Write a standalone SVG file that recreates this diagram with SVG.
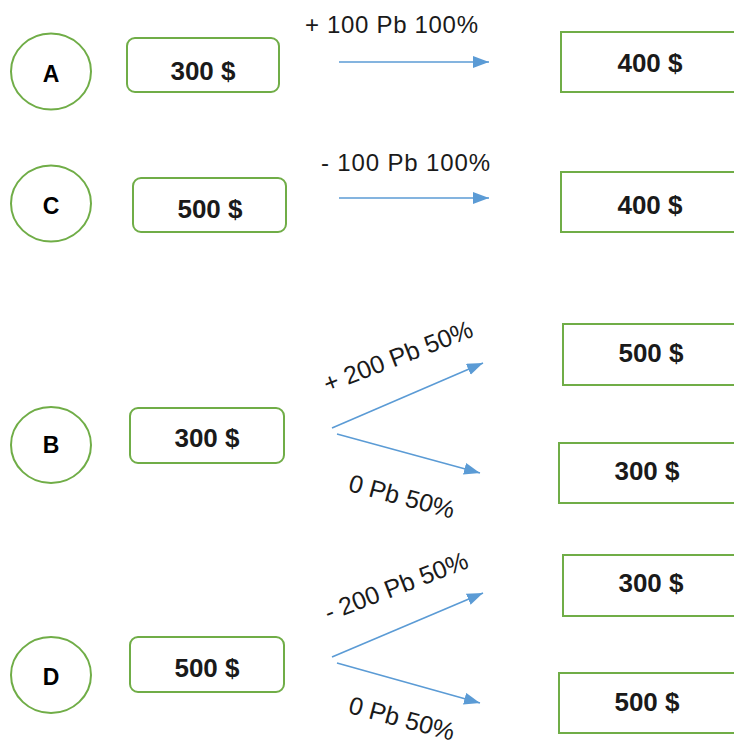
<svg xmlns="http://www.w3.org/2000/svg" width="734" height="747" viewBox="0 0 734 747">
<defs>
<style>
.c{fill:#fff;stroke:#70AD47;stroke-width:2}
.b{fill:#fff;stroke:#70AD47;stroke-width:2}
.lt{font-family:"Liberation Sans",Arial,sans-serif;font-weight:bold;font-size:23px;fill:#000;text-anchor:middle}
.vt{font-family:"Liberation Sans",Arial,sans-serif;font-weight:bold;font-size:26px;fill:#1a1a1a;text-anchor:middle}
.lb{font-family:"Liberation Sans",Arial,sans-serif;font-size:24px;fill:#1a1a1a}
.rl{font-size:25px;text-anchor:middle}
.ar{stroke:#5B9BD5;stroke-width:1.6;fill:none;marker-end:url(#ah)}
</style>
<marker id="ah" markerUnits="userSpaceOnUse" markerWidth="18" markerHeight="14" refX="16" refY="6" orient="auto">
<path d="M0,0 L16,6 L0,12 z" fill="#5B9BD5"/>
</marker>
</defs>
<rect width="734" height="747" fill="#fff"/>

<g id="circleA"><ellipse class="c" cx="51" cy="71.5" rx="40" ry="38"/><text class="lt" x="51" y="82">A</text></g>
<g id="circleC"><ellipse class="c" cx="51" cy="203.5" rx="40" ry="38"/><text class="lt" x="51" y="214">C</text></g>
<g id="circleB"><ellipse class="c" cx="51" cy="445" rx="40" ry="38"/><text class="lt" x="51" y="453">B</text></g>
<g id="circleD"><ellipse class="c" cx="51" cy="675" rx="40" ry="38"/><text class="lt" x="51" y="685">D</text></g>

<g id="startA"><rect class="b" x="127" y="38" width="152" height="54" rx="8"/><text class="vt" x="203" y="80">300 $</text></g>
<g id="startC"><rect class="b" x="133" y="178" width="153" height="54" rx="8"/><text class="vt" x="210" y="218">500 $</text></g>
<g id="startB"><rect class="b" x="130" y="408" width="154" height="55" rx="8"/><text class="vt" x="207" y="447">300 $</text></g>
<g id="startD"><rect class="b" x="130" y="637" width="154" height="55" rx="8"/><text class="vt" x="207" y="677">500 $</text></g>

<g id="endA"><rect class="b" x="561" y="32" width="200" height="60"/><text class="vt" x="650" y="72">400 $</text></g>
<g id="endC"><rect class="b" x="561" y="172" width="200" height="60"/><text class="vt" x="650" y="214">400 $</text></g>
<g id="endB1"><rect class="b" x="563" y="324" width="200" height="61"/><text class="vt" x="651" y="362">500 $</text></g>
<g id="endB2"><rect class="b" x="559" y="443" width="200" height="60"/><text class="vt" x="647" y="480">300 $</text></g>
<g id="endD1"><rect class="b" x="563" y="555" width="200" height="61"/><text class="vt" x="651" y="592">300 $</text></g>
<g id="endD2"><rect class="b" x="559" y="673" width="200" height="60"/><text class="vt" x="647" y="711">500 $</text></g>

<g id="connectors">
<line class="ar" x1="339" y1="62" x2="489" y2="62"/>
<line class="ar" x1="339" y1="198" x2="489" y2="198"/>
<line class="ar" x1="332" y1="428" x2="483" y2="363"/>
<line class="ar" x1="337" y1="434" x2="480" y2="473"/>
<line class="ar" x1="332" y1="657" x2="483" y2="593"/>
<line class="ar" x1="337" y1="663" x2="480" y2="703"/>
<text class="lb" x="305" y="33" textLength="173">+ 100 Pb 100%</text>
<text class="lb" x="321" y="171" textLength="169">- 100 Pb 100%</text>
<text class="lb rl" transform="translate(398,356) rotate(-21)" y="9">+ 200 Pb 50%</text>
<text class="lb rl" transform="translate(402,496) rotate(15)" y="9">0 Pb 50%</text>
<text class="lb rl" transform="translate(396,586) rotate(-21)" y="9">- 200 Pb 50%</text>
<text class="lb rl" transform="translate(402,718) rotate(15)" y="9">0 Pb 50%</text>
</g>
</svg>
